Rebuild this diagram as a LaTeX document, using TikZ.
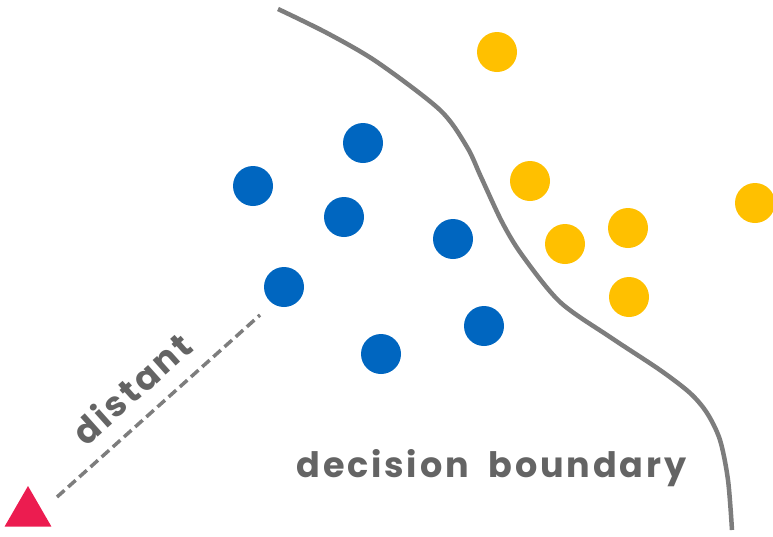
\documentclass[tikz,border=0pt]{standalone}
\usepackage{fontspec}
\newfontfamily\labelfont[LetterSpace=8]{Poppins}
\usetikzlibrary{shapes.geometric}
\definecolor{dotblue}{RGB}{0,102,192}
\definecolor{dotyellow}{RGB}{255,192,0}
\definecolor{queryred}{RGB}{236,28,80}
\definecolor{linegray}{RGB}{125,125,125}
\definecolor{textgray}{RGB}{100,100,100}

\begin{document}
\begin{tikzpicture}[x=1pt, y=-1pt,
  dot/.style={circle, minimum size=40pt, inner sep=0pt},
  bluedot/.style={dot, fill=dotblue},
  yellowdot/.style={dot, fill=dotyellow},
  lbl/.style={textgray, font=\labelfont\bfseries\fontsize{35}{35}\selectfont}]
\useasboundingbox (0,0) rectangle (773,536);
% decision boundary
\draw[linegray, line width=4.5pt] plot[smooth, tension=0.5] coordinates {(278,9) (327,33) (377,62) (440,110) (467,147) (481,177) (502,222) (522,255) (560,302) (610,337) (660,370) (690,393) (707,413) (720,440) (728,480) (732,530)};
% the two classes
\foreach \n/\x/\y in {1/363/143, 2/253/186, 3/344/217, 4/453/239, 5/284/287, 6/484/326, 7/381/354}
  \node[bluedot] (b\n) at (\x,\y) {};
\foreach \n/\x/\y in {1/497/52, 2/530/181, 3/565/244, 4/628/228, 5/629/297, 6/755/203}
  \node[yellowdot] (y\n) at (\x,\y) {};
% query point
\node[regular polygon, regular polygon sides=3, fill=queryred, minimum size=54pt, inner sep=0pt] (query) at (28,513) {};
\coordinate (qend) at (57,497);
\coordinate (bend) at (260,315);
\draw[linegray, line width=3.5pt, dash pattern=on 10pt off 5pt] (qend) -- (bend)
  node[pos=0.47, sloped, above=12pt, lbl] {distant};
\node[lbl, anchor=base west] (boundlbl) at (293,477) {decision\hspace{20pt}boundary};
\end{tikzpicture}
\end{document}
